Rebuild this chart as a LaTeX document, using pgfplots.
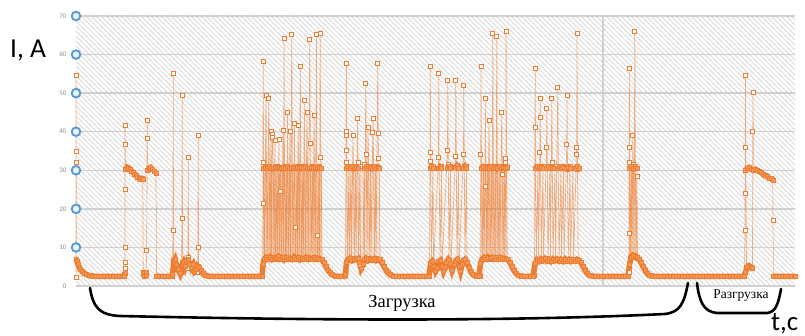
\documentclass[border=0pt]{standalone}
\usepackage{fontspec}
\setmainfont{Liberation Serif}
\newfontfamily\calib{Carlito}
\usepackage{pgfplots}
\pgfplotsset{compat=1.18}
\definecolor{xlorange}{HTML}{ED7D31}
\definecolor{xlblue}{HTML}{5B9BD5}
\definecolor{gridgray}{HTML}{D0D0D0}
\definecolor{hatchgray}{HTML}{D8D8D8}
\begin{document}
\begin{tikzpicture}
\path[use as bounding box] (0bp,0bp) rectangle (805bp,336bp);
\begin{scope}[x=1bp, y=1bp]
\clip (76,50) rectangle (795,321);
\foreach \i in {-200,-195,...,795} {
  \draw[hatchgray, line width=1bp] (\i,321) -- ({\i+271},50);
}
\end{scope}
\begin{axis}[
  at={(76bp,50bp)}, anchor=south west,
  scale only axis, width=719bp, height=270bp,
  xmin=76, xmax=795, ymin=0, ymax=70,
  clip=false,
  axis line style={draw=none},
  major tick length=0pt,
  xtick=\empty,
  extra x ticks={603}, extra x tick labels={},
  extra x tick style={grid=major},
  ytick={0,10,...,70},
  ymajorgrids,
  major grid style={draw=gridgray, line width=1.3bp},
  /pgf/number format/assume math mode=true,
  yticklabel style={font=\calib\fontsize{7}{8}\selectfont, text=black!45, xshift=-6bp},
  unbounded coords=jump,
]
% shaded areas from dense switching
\addplot[draw=none, fill=xlorange, fill opacity=0.38] coordinates {(263,7)(263,30.5)(322,30.5)(322,7)} -- cycle;
\addplot[draw=none, fill=xlorange, fill opacity=0.3] coordinates {(481,7)(481,30.5)(507,30.5)(507,7)} -- cycle;
\addplot[draw=none, fill=xlorange, fill opacity=0.15] coordinates {(346,7)(346,30.5)(380,30.5)(380,7)} -- cycle;
\addplot[draw=none, fill=xlorange, fill opacity=0.28] coordinates {(629,7.5)(629,30.5)(637,30.5)(637,7.5)} -- cycle;
% spikes
\addplot[draw=xlorange, draw opacity=0.6, line width=0.7bp, mark=square*, mark size=2bp,
  mark options={draw=xlorange, fill=white, line width=0.9bp, opacity=1, draw opacity=1}]
coordinates {
(76,2.3)(76,32)(76,35)(76,54.5)(76.3,7)(76.5,nan)
(124.5,2.6)(125,3.2)(125,4.5)(125,6)(125,10)(125,25)(125,36.8)(125,41.5)(125.5,30.2)(126,nan)
(142.8,27.6)(143.2,3.4)(144.5,2.6)(146,3)(146.8,9.3)(147,38.3)(147.2,43)(147.5,30)(148,nan)
(156,29.3)(156.5,2.6)(157,nan)
(172.5,2.6)(173,14.5)(173.2,55.2)(173.6,6.7)(174,nan)
(181.6,3.4)(182,17.6)(182.2,49.5)(182.6,6)(183,nan)
(187.6,4.5)(188,7.5)(188.2,33.4)(188.6,7)(189,nan)
(197.6,3.5)(198,10)(198.2,39.1)(198.6,5)(199,nan)
(262.5,2.5)(263,21.3)(263,32)(263.2,58.3)(263.6,30.5)(264.5,7)(266,49.5)(266.5,30.5)(267.2,7)(268.8,48.7)(269.3,30.5)(270,7)(271,40)(271.6,7.2)(272.2,39.3)(272.8,38.5)(273.3,30.5)(274,7)(275,37.8)(275.6,7)(277,31)(277.5,7)(279,38)(279.5,7.3)(280,24.4)(280.5,30.5)(281.5,7)(283,40.4)(283.5,7)(284,64.3)(284.5,30.5)(285.5,7)(286.3,31)(286.8,7)(287.5,45)(288,30.5)(288.7,7)(290,40)(290.5,7)(291.8,65.1)(292.3,30.5)(293,7)(294.5,42.2)(295,15.3)(295.6,7)(297,31)(297.5,7)(298.2,41.7)(298.7,30.5)(299.3,7)(300.3,57)(300.8,30.5)(301.6,7)(302.8,31)(303.3,7)(304.3,48)(304.8,30.5)(305.5,7)(307,45)(307.5,30.5)(308.2,7)(309.8,63.8)(310.3,37)(311,7)(312.5,31)(313,7)(314,44.3)(314.5,30.5)(315.2,7)(316.5,65.1)(317,13)(317.8,7)(319,31)(319.6,7)(320.2,65.6)(320.7,33.4)(321.2,30.5)(322,7)(322.5,nan)
(345.5,2.8)(346,35.2)(346.1,39)(346.2,40)(346.4,57.8)(346.8,32)(347.5,6.5)(349,31)(349.5,6.5)(351,31)(351.5,6.8)(353,39)(353.5,30.5)(354.2,7)(355.5,31)(356,6.8)(357.5,43.5)(358,32)(358.5,6.7)(360,31)(360.5,5)(363,6)(364,31.5)(364.5,6.8)(365.8,52.6)(366.3,34)(367,7)(368,41.2)(368.5,30.5)(369.2,6.8)(370.5,31)(371,6.7)(372.8,39.7)(373.1,43.5)(373.6,30.5)(374.3,7)(375.5,31)(376,6.8)(377.8,57.8)(378.2,39.5)(378.7,33)(379.2,30.5)(380,6.8)(380.5,nan)
(429.5,2.8)(430,32.4)(430.1,34.7)(430.3,57)(430.7,30.6)(431.5,6)(433,31)(433.5,5)(438.5,33.4)(438.8,55.2)(439.2,30.5)(440,6.3)(441.5,31)(442,5.2)(447.5,35.2)(447.8,53.4)(448.3,31.5)(449,6.5)(450.5,31)(451,5.5)(455.5,33.7)(455.8,53.4)(456.3,31)(457,6.8)(458.5,31)(459,5.2)(463.5,34.2)(463.8,51.9)(464.3,31)(465,6.9)(466.5,31)(467,6)(467.5,nan)
(480,2.6)(480.8,34.2)(481,57)(481.5,30.5)(482.2,7)(483.5,31)(484,7.2)(485,25.7)(485.3,48.5)(485.8,30.5)(486.5,7)(487.5,31)(488,7.3)(489,42.8)(489.5,30.5)(490.2,7)(491.5,31)(492,7.2)(492.8,65.6)(493.3,30.5)(494,7)(495.3,31)(495.8,7.1)(496.8,64.8)(497.3,30.5)(498,7)(499.3,31)(499.8,7.2)(501.8,45.1)(502.3,29)(503,7)(504.3,31)(504.8,7.1)(505.8,32)(505.9,33)(506.1,65.9)(506.6,30.5)(507.3,7)(508,nan)
(534.5,2.8)(535,41.2)(535.2,56.3)(535.6,30.5)(536.3,6.5)(538,31)(538.5,6.8)(539.8,34.5)(540,43.8)(540.2,48.7)(540.6,30.5)(541.3,6.8)(543,31)(543.5,6.6)(546.5,35.8)(546.8,46.1)(547.3,30.5)(548,6.5)(550,31)(550.5,6.6)(551.8,48.7)(552.3,32)(553,6.8)(555,31)(555.5,6.5)(557.8,51.6)(558.3,30.5)(559,6.5)(561,31)(561.5,6.6)(563.5,31)(564,6.8)(566.8,36.8)(567,49.5)(567.5,30.2)(568.2,6.5)(570,31)(570.5,6.6)(573,30.5)(573.5,6.6)(576.5,34.2)(576.7,35.8)(577,65.6)(577.5,30.2)(578.2,6.6)(578.5,nan)
(628.5,2.6)(629,3.6)(629,13.7)(629.1,35.8)(629.3,56.3)(629.7,32)(630.3,7.5)(631.5,31)(632,7.8)(632.8,39.1)(633.3,31.5)(634,7.8)(634.8,65.9)(635.3,31)(636,7.5)(637,28.3)(637.5,7.2)(638,nan)
(744.5,2.6)(745,14.5)(745.1,24.1)(745.2,36)(745.4,54.7)(745.8,30)(746.5,4.8)(748,5.2)(749.5,4.9)(751,4.7)(752.5,4.5)(752.8,40)(753,50.3)(753.4,30)(754,nan)
(772.8,27.5)(773,17.1)(773.4,2.6)
};
% low band
\addplot[draw=xlorange, line width=5.5bp, mark=square*, mark size=2bp,
  mark options={draw=xlorange, fill=xlorange!80, line width=0.8bp}]
coordinates {
(76,7)(77,6.4)(78,5.6)(79,4.9)(80,4.4)(82,3.8)(84,3.3)(86,3.0)(89,2.7)(92,2.6)(95,2.5)(98,2.5)(101,2.5)(104,2.5)(107,2.5)(110,2.5)(113,2.5)(116,2.5)(119,2.5)(122,2.5)(124,2.6)(125,3.5)(126,nan)
(143,3.2)(144.5,2.6)(146,2.8)(146.8,3.5)(147,nan)
(156.5,2.6)(159,2.5)(162,2.5)(165,2.5)(168,2.5)(171,2.5)(172.5,3.0)(174,6.5)(175,7)(176.5,5.5)(178,4.2)(180,3.2)(182,5.5)(183.5,6.2)(185,5)(186.5,6.5)(188,7)(189.5,5.5)(191,4.6)(193,5.5)(194.5,3.8)(196,4.2)(197.5,5.2)(199,4.8)(201,4)(203,3.2)(205,2.8)(208,2.6)(211,2.5)(214,2.5)(217,2.5)(220,2.5)(223,2.5)(226,2.5)(229,2.5)(232,2.5)(235,2.5)(238,2.5)(241,2.5)(244,2.5)(247,2.5)(250,2.5)(253,2.5)(256,2.5)(259,2.5)(262,2.5)
(263,5.5)(264,6.8)(266,7.4)(268,7.0)(270,7.5)(272,6.9)(274,7.3)(276,7.1)(278,7.6)(280,7.0)(282,7.3)(284,6.8)(286,7.4)(288,7.0)(290,7.2)(292,6.9)(294,7.5)(296,7.0)(298,7.3)(300,6.8)(302,7.2)(304,7.0)(306,7.4)(308,6.9)(310,7.2)(312,7.0)(314,7.3)(316,6.9)(318,7.2)(320,7.0)(322,6.8)(324,6.0)(326,5.0)(328,4.1)(330,3.4)(332,2.9)(335,2.6)(338,2.5)(341,2.5)(344,2.5)(345.5,3)
(346.5,6.2)(348,6.8)(350,7.2)(352,6.6)(354,7.0)(356,6.8)(358,7.1)(359.5,6.2)(361,4.5)(363,5.5)(364.5,6.8)(366,7.2)(368,6.6)(370,7.0)(372,6.7)(374,7.1)(376,6.6)(378,7.0)(380,6.8)(382,6.0)(384,5.0)(386,4.1)(388,3.4)(390,2.9)(393,2.6)(396,2.5)(399,2.5)(402,2.5)(405,2.5)(408,2.5)(411,2.5)(414,2.5)(417,2.5)(420,2.5)(423,2.5)(426,2.5)(429,2.6)
(430.5,5.8)(432,6.3)(434,5.2)(435.5,3.8)(437,4.5)(438.5,6.3)(440,6.6)(442,5.2)(443.5,3.8)(445,4.8)(446.5,6.2)(448,6.8)(450,5.8)(452,4.0)(454,5.5)(455.5,6.5)(457,6.8)(459,5.2)(460.5,3.8)(462,5.5)(463.5,6.6)(465,6.9)(467,6.0)(469,4.8)(471,3.6)(473,2.9)(476,2.6)(479,2.6)
(480.5,5.8)(482,7.0)(484,7.4)(486,7.0)(488,7.5)(490,7.1)(492,7.4)(494,7.0)(496,7.3)(498,7.0)(500,7.4)(502,7.0)(504,7.2)(506,7.0)(508,6.8)(510,6.0)(512,5.0)(514,4.0)(516,3.2)(518,2.8)(521,2.6)(524,2.5)(527,2.5)(530,2.5)(533,2.6)
(535,5.8)(537,6.8)(539,6.4)(541,7.0)(543,6.6)(545,7.1)(547,6.5)(549,6.9)(551,6.4)(553,7.0)(555,6.6)(557,7.0)(559,6.5)(561,6.9)(563,6.4)(565,7.0)(567,6.5)(569,6.9)(571,6.4)(573,6.8)(575,6.5)(577,6.9)(579,6.6)(581,6.0)(583,5.0)(585,4.1)(587,3.3)(589,2.8)(592,2.6)(595,2.5)(598,2.5)(601,2.5)(604,2.5)(607,2.5)(610,2.5)(613,2.5)(616,2.5)(619,2.5)(622,2.5)(625,2.5)(628,2.6)
(629.5,5.5)(631,7.4)(633,8.0)(635,7.6)(637,7.3)(639,7.0)(641,6.0)(643,5.0)(645,4.1)(647,3.3)(649,2.8)(652,2.6)(655,2.5)(658,2.5)(661,2.5)(664,2.5)(667,2.5)(670,2.5)(673,2.5)(676,2.5)(679,2.5)(682,2.5)(685,2.5)(688,2.5)(691,2.5)(694,2.5)(697,2.5)(700,2.5)(703,2.5)(706,2.5)(709,2.5)(712,2.5)(715,2.5)(718,2.5)(721,2.5)(724,2.5)(727,2.5)(730,2.5)(733,2.5)(736,2.5)(739,2.5)(742,2.5)(744,2.5)
(745.5,3.5)(747,4.8)(749,5.2)(751,4.8)(752.5,4.5)(753,nan)
(773.5,2.6)(776,2.5)(779,2.5)(782,2.5)(785,2.5)(788,2.5)(791,2.5)(794,2.5)(795,2.5)
};
% plateau band at ~30 A
\addplot[draw=xlorange, line width=5bp, mark=square*, mark size=2bp,
  mark options={draw=xlorange, fill=xlorange!75, line width=0.8bp}]
coordinates {
(125.5,30.2)(127,30.8)(128.5,30.5)(130,30.2)(131.5,29.8)(133,29.5)(134.5,29.0)(136,28.6)(137.5,28.2)(139,27.8)(140.5,27.6)(142,27.9)(143,27.6)(144,nan)
(147.5,30.0)(149,30.6)(150.5,30.8)(152,30.3)(154,29.8)(156,29.3)(157,nan)
(263.5,30.4)(265,30.8)(267,30.5)(269,30.9)(271,30.6)(273,30.4)(275,30.8)(277,30.5)(279,30.7)(281,30.4)(283,30.8)(285,30.5)(287,30.9)(289,30.6)(291,30.4)(293,30.8)(295,30.5)(297,30.7)(299,30.4)(301,30.8)(303,30.5)(305,30.9)(307,30.6)(309,30.4)(311,30.8)(313,30.5)(315,30.7)(317,30.4)(319,30.8)(321,30.5)(322,nan)
(346.5,30.6)(348,31.0)(350,30.5)(352,30.9)(354,30.4)(356,30.8)(358,30.5)(359,nan)
(364,30.6)(366,30.9)(368,30.5)(370,30.8)(372,30.4)(374,30.9)(376,30.5)(378,30.8)(379.5,30.4)(380,nan)
(430,30.6)(431.5,31)(433,30.5)(434,nan)
(438.5,30.5)(440,31)(441.5,30.6)(442,nan)
(447.5,30.6)(449,31)(450.5,30.5)(451,nan)
(455.5,30.7)(457,31.2)(458.5,30.6)(459,nan)
(463.5,30.6)(465,31.1)(466.5,30.5)(467,nan)
(481,30.5)(483,30.9)(485,30.5)(487,30.8)(489,30.4)(491,30.9)(493,30.5)(495,30.8)(497,30.4)(499,30.9)(501,30.5)(503,30.8)(505,30.4)(507,30.7)(508,nan)
(535,30.5)(537,30.9)(539,30.4)(541,30.8)(543,30.4)(544,nan)
(546,30.6)(548,30.9)(550,30.5)(552,30.8)(554,30.4)(555,nan)
(557,30.6)(559,30.9)(561,30.5)(563,30.8)(564,nan)
(566,30.5)(568,30.8)(570,30.4)(571,nan)
(575,30.5)(577,30.9)(579,30.4)(580,nan)
(629.5,30.6)(631,31.0)(633,30.5)(635,30.9)(637,30.4)(638,nan)
(745.5,30.0)(747,30.6)(749,30.8)(751,30.3)(753,30.0)(755,30.3)(757,29.9)(759,29.6)(761,29.4)(763,29.0)(765,28.7)(767,28.3)(769,28.0)(771,27.8)(773,27.5)
};
% blue circle markers on the axis
\addplot[only marks, mark=*, mark size=4.3bp,
  mark options={draw=xlblue, fill=xlblue!12, line width=1.9bp}]
coordinates {(76,10)(76,20)(76,30)(76,40)(76,50)(76,60)(76,70)};
\end{axis}
\begin{scope}[x=1bp, y=1bp]
\node[anchor=base west, inner sep=0pt, font=\calib\fontsize{27.5}{30}\selectfont] at (10,279) {I, A};
\node[anchor=base west, inner sep=0pt, font=\calib\fontsize{27}{30}\selectfont] at (771,6) {t,c};
\node[anchor=base, inner sep=0pt, font=\fontsize{18.5}{20}\selectfont] at (402,29) {Загрузка};
\node[anchor=base, inner sep=0pt, font=\fontsize{13.5}{15}\selectfont] at (741,38) {Разгрузка};
\draw[line width=2.6bp, black, line cap=round]
  (90,48) .. controls (93,30) and (98,21) .. (120,20)
  .. controls (300,16) and (500,14) .. (665,22)
  .. controls (680,24) and (684,32) .. (688,53);
\draw[line width=2.6bp, black, line cap=round]
  (697,53) .. controls (699,36) and (703,24) .. (717,23)
  -- (767,23) .. controls (775,24) and (778,30) .. (781,47);
\end{scope}
\end{tikzpicture}
\end{document}
